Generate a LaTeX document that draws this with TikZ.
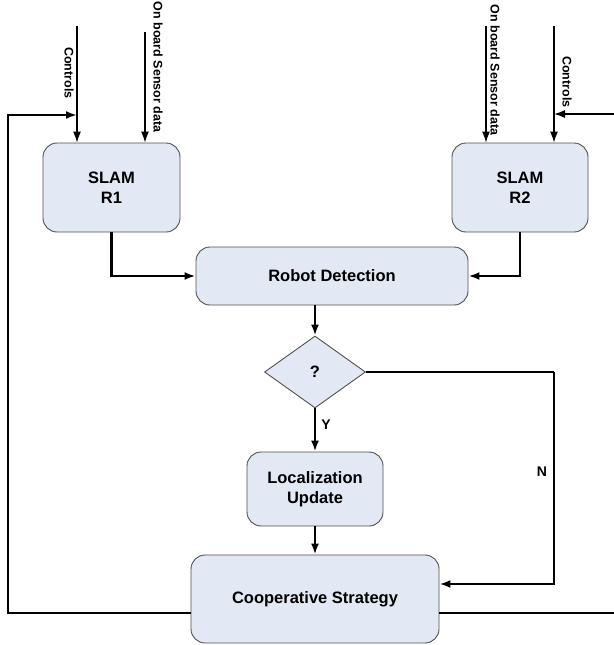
\documentclass[tikz,border=0pt]{standalone}
\usepackage{fontspec}
\setmainfont{Liberation Sans}
\usepackage{tikz}
\usetikzlibrary{shapes.geometric,arrows.meta}
\usetikzlibrary{calc,positioning}
\definecolor{boxfill}{RGB}{226,233,245}
\definecolor{boxline}{RGB}{80,80,80}
\tikzstyle{flow}=[
  >={Latex[length=11pt,width=8pt]}, x=1pt, y=-1pt, font=\bfseries\fontsize{16.5}{19.5}\selectfont
]
\tikzstyle{stage}=[
  draw=boxline, fill=boxfill, rounded corners=14pt, line width=0.9pt,
  align=center, inner sep=0pt
]
\tikzstyle{query}=[
  draw=boxline, fill=boxfill, diamond, line width=0.9pt, inner sep=0pt,
  minimum width=101pt, minimum height=72pt
]
\tikzstyle{feed}=[
  line width=2.3pt, ->
]
\tikzstyle{input}=[
  line width=1.3pt, ->
]
\tikzstyle{inlabel}=[
  rotate=-90, font=\bfseries\fontsize{12.5}{14}\selectfont, inner sep=0pt
]

\begin{document}
\begin{tikzpicture}[flow]
      \useasboundingbox (0,0) rectangle (613,645);
      \node (slamA) at (111.5,187.5) [stage, minimum width=137pt, minimum height=89pt] {SLAM\\R1};
      \node (slamB) at (520,187.5) [stage, minimum width=136pt, minimum height=89pt] {SLAM\\R2};
      \node (detect) at (332,276) [stage, minimum width=272pt, minimum height=58pt] {Robot Detection};
      \node (check) at (315,372) [query] {?};
      \node (locupd) at (315,489) [stage, minimum width=136pt, minimum height=74pt] {Localization\\Update};
      \node (coop) at (315,599) [stage, minimum width=248pt, minimum height=88pt] {Cooperative Strategy};

      % inputs of the two robots
      \coordinate (ctlA) at (77,26);
      \coordinate (senA) at (145,32);
      \coordinate (senB) at (486,26);
      \coordinate (ctlB) at (554,26);
      \draw [input] (ctlA) -- (ctlA |- slamA.north);
      \draw [input] (senA) -- (senA |- slamA.north);
      \draw [input] (senB) -- (senB |- slamB.north);
      \draw [input] (ctlB) -- (ctlB |- slamB.north);
      \node (ctlAlbl) at (69,73) [inlabel] {Controls};
      \node (senAlbl) at (158,67) [inlabel] {On board Sensor data};
      \node (senBlbl) at (495,70) [inlabel] {On board Sensor data};
      \node (ctlBlbl) at (567,82) [inlabel] {Controls};

      % into detection
      \draw [feed] (slamA.south) |- (detect.west);
      \draw [feed] (slamB.south) |- (detect.east);
      \draw [feed] (detect.south -| check.north) -- (check.north);

      % decision
      \coordinate (nturn) at (554,372);
      \coordinate (nback) at (coop.east |- 0,584);
      \draw [line width=1.3pt] (check.east) -- (nturn);
      \draw [feed] (nturn) |- (nback);
      \node (nlbl) at (542,472) {\fontsize{14}{16}\selectfont N};
      \draw [feed] (check.south) -- (locupd.north);
      \node (ylbl) at (326,425) {\fontsize{14}{16}\selectfont Y};
      \draw [feed] (locupd.south) -- (coop.north);

      % feedback to the controls
      \coordinate (outA) at (coop.west |- 0,613);
      \coordinate (outB) at (coop.east |- 0,613);
      \coordinate (backA) at (8,613);
      \coordinate (backB) at (622,613);
      \draw [feed] (outA) -- (backA) |- (ctlA |- 0,115);
      \draw [line width=2.3pt] (outB) -- (backB);
      \draw [input] (backB |- 0,114) -- (ctlB |- 0,114);
\end{tikzpicture}
\end{document}
